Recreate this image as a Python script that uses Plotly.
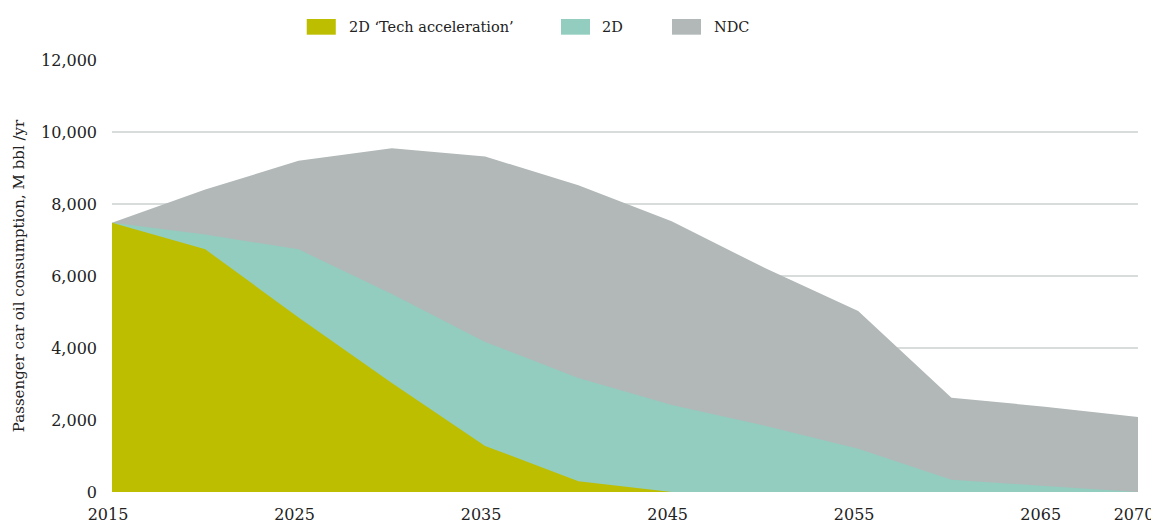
import plotly.graph_objects as go

# years and oil consumption (M bbl/yr)
years = [2015, 2020, 2025, 2030, 2035, 2040, 2045, 2050, 2055, 2060, 2065, 2070]
ndc = [7480, 8400, 9200, 9550, 9320, 8520, 7520, 6220, 5030, 2620, 2370, 2080]
d2 = [7480, 7150, 6740, 5500, 4170, 3170, 2420, 1840, 1200, 340, 170, 0]
tech = [7480, 6740, 4850, 3030, 1280, 300, 0, 0, 0, 0, 0, 0]

x_ticks = [2015, 2025, 2035, 2045, 2055, 2065, 2070]

series = [
    ("NDC", ndc, "#B1B8B7"),
    ("2D", d2, "#92CDBF"),
    ("2D \u2018Tech acceleration\u2019", tech, "#BDBE00"),
]

fig = go.Figure()

for name, vals, col in series:
    fig.add_trace(go.Scatter(
        x=years, y=vals, name=name,
        mode="lines", line=dict(width=0, color=col),
        fill="tozeroy", fillcolor=col, showlegend=False))

# legend drawn as swatches + labels (left edge of swatch, left edge of label)
legend_pos = [(0.1898, 0.2291), (0.4376, 0.4757), (0.5458, 0.5848)]
for (name, vals, col), (sx, tx) in zip(series[::-1], legend_pos):
    fig.add_shape(type="rect", xref="paper", yref="paper",
                  x0=sx, x1=sx + 0.0283, y0=1.0586, y1=1.0949,
                  fillcolor=col, line=dict(width=0))
    fig.add_annotation(text=name, xref="paper", yref="paper",
                       x=tx, y=1.0767, xanchor="left", yanchor="middle",
                       showarrow=False, font=dict(size=14.5, color="#222222"))

# page body has an 8px margin, so the figure is 8px smaller than the window
fig.update_layout(
    width=1151, height=518,
    margin=dict(l=104, r=21, t=52, b=34),
    plot_bgcolor="white",
    paper_bgcolor="white",
    font=dict(family="DejaVu Serif", size=16, color="#222222"),
    showlegend=False,
    xaxis=dict(
        range=[2015, 2070], tickvals=x_ticks, automargin=False,
        showgrid=False, zeroline=False, showline=False,
        ticks="", ticklabelstandoff=11, ticklabelshift=-4,
        ticklabeloverflow="allow", tickfont=dict(size=16)),
    yaxis=dict(
        range=[0, 12000], dtick=2000, tickformat=",", automargin=False,
        showgrid=True, gridcolor="#D8DDDC", gridwidth=2,
        zeroline=False, showline=False, ticks="",
        ticklabelstandoff=14, tickfont=dict(size=16),
        title=dict(text="Passenger car oil consumption, M bbl /yr",
                   font=dict(size=15), standoff=12)),
)

fig.write_html("out.html")
